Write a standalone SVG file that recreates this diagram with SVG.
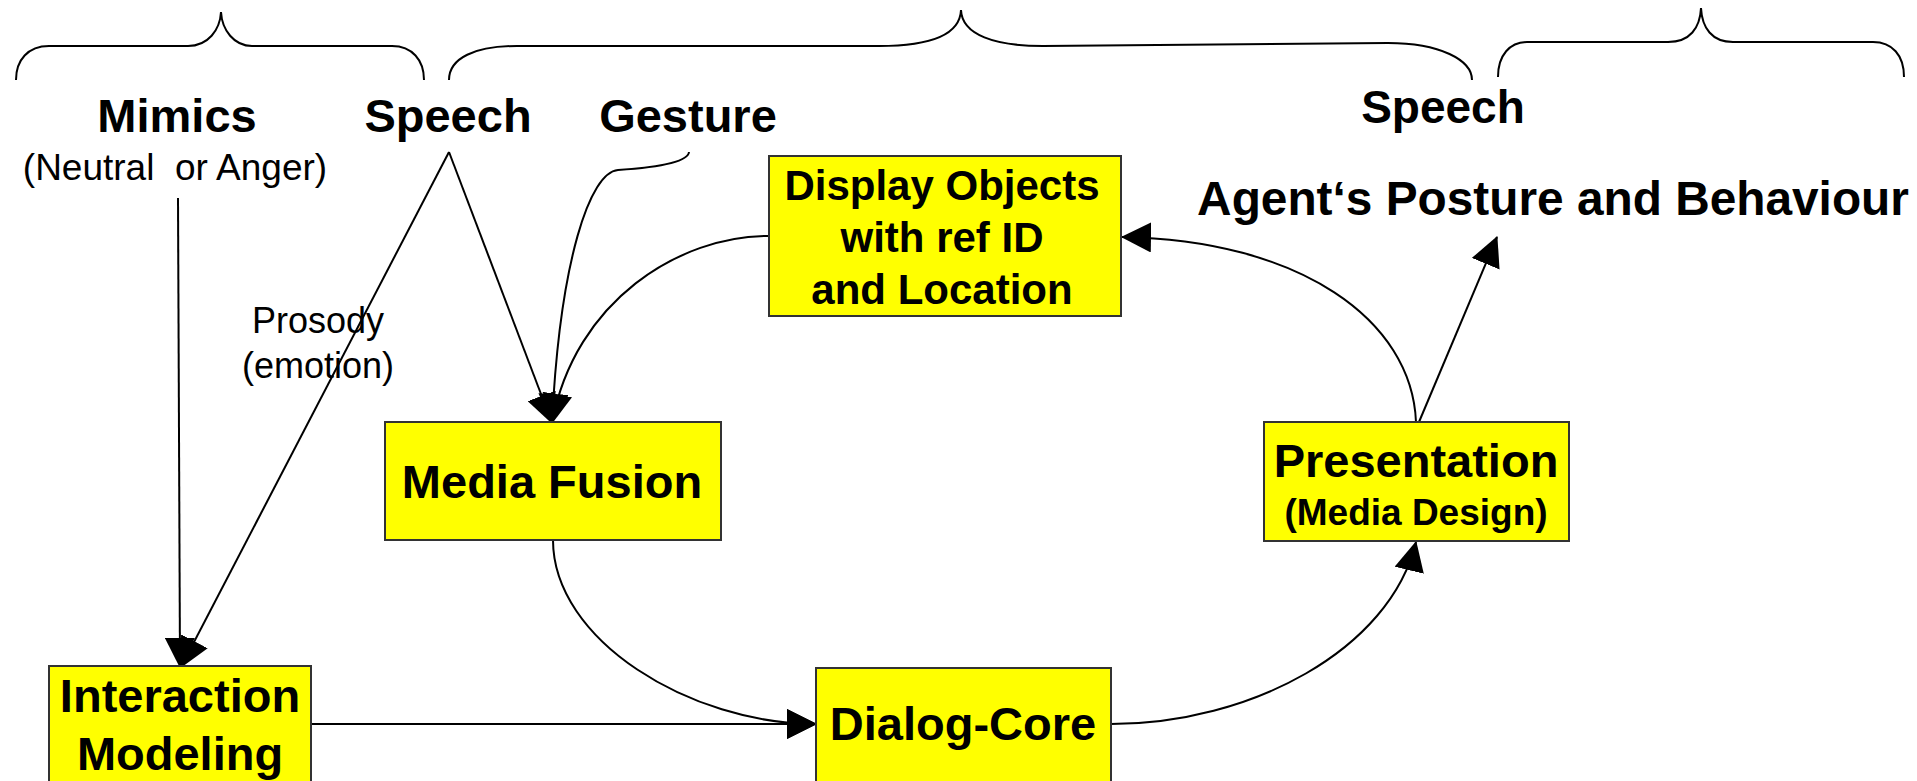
<svg xmlns="http://www.w3.org/2000/svg" width="1917" height="781" viewBox="0 0 1917 781">
  <style>
    .box { fill: #ffff00; stroke: #333333; stroke-width: 2; }
    .t { font-family: "Liberation Sans", Arial, sans-serif; fill: #000000; text-anchor: middle; }
    .b { font-weight: bold; }
    .line { fill: none; stroke: #000000; stroke-width: 2; }
    .brace { fill: none; stroke: #000000; stroke-width: 2; }
  </style>
  <defs>
    <marker id="arrow" markerUnits="userSpaceOnUse" markerWidth="30" markerHeight="30" refX="29" refY="15" orient="auto">
      <path d="M0,0 L30,15 L0,30 z" fill="#000000"/>
    </marker>
  </defs>

  <rect width="1917" height="781" fill="#ffffff"/>

  <!-- brackets grouping the modalities -->
  <g id="braces">
    <path class="brace" d="M16,80 C16,60 28,46 49,46 L188,46 C208,46 220,30 221,12 C222,30 234,46 252,46 L392,46 C412,46 424,60 424,80"/>
    <path class="brace" d="M449,80 C449,58 475,46 517,46 L879,46 C930,46 960,35 961,10 C962,35 995,46 1043,46 L1388,43 C1440,43 1472,60 1472,80"/>
    <path class="brace" d="M1498,77 C1498,55 1510,42 1527,42 L1668,42 C1690,42 1700,28 1701,8 C1702,28 1712,42 1733,42 L1873,42 C1892,42 1904,55 1904,77"/>
  </g>

  <!-- input / output labels -->
  <g id="mimics">
    <text class="t b" x="177" y="132" font-size="47">Mimics</text>
    <text class="t" x="175" y="180" font-size="37" xml:space="preserve">(Neutral  or Anger)</text>
  </g>
  <g id="speech-in">
    <text class="t b" x="448" y="132" font-size="47">Speech</text>
  </g>
  <g id="gesture">
    <text class="t b" x="688" y="132" font-size="47">Gesture</text>
  </g>
  <g id="speech-out">
    <text class="t b" x="1443" y="123" font-size="46">Speech</text>
  </g>
  <g id="agent">
    <text class="t b" x="1553" y="215" font-size="47.8">Agent‘s Posture and Behaviour</text>
  </g>
  <g id="prosody">
    <text class="t" x="318" y="333" font-size="36">Prosody</text>
    <text class="t" x="318" y="378" font-size="36">(emotion)</text>
  </g>

  <!-- connectors -->
  <g id="connectors">
    <path class="line" d="M178,198 L180,667" marker-end="url(#arrow)"/>
    <path class="line" d="M449,152 L181,667" marker-end="url(#arrow)"/>
    <path class="line" d="M449,152 L552,423" marker-end="url(#arrow)"/>
    <path class="line" d="M689,152 C688,163 650,168 618,170 C590,172 560,260 552,423" marker-end="url(#arrow)"/>
    <path class="line" d="M768,236 C680,236 575,300 552,423" marker-end="url(#arrow)"/>
    <path class="line" d="M311,724 L816,724" marker-end="url(#arrow)"/>
    <path class="line" d="M553,540 C553,640 690,724 816,724" marker-end="url(#arrow)"/>
    <path class="line" d="M1111,724 C1250,724 1390,650 1416,542" marker-end="url(#arrow)"/>
    <path class="line" d="M1416,422 C1412,320 1300,240 1122,237" marker-end="url(#arrow)"/>
    <path class="line" d="M1419,422 L1497,237" marker-end="url(#arrow)"/>
  </g>

  <!-- processing modules -->
  <g id="display-objects">
    <rect class="box" x="769" y="156" width="352" height="160"/>
    <text class="t b" x="942" y="200" font-size="42">Display Objects</text>
    <text class="t b" x="942" y="252" font-size="42">with ref ID</text>
    <text class="t b" x="942" y="304" font-size="42">and Location</text>
  </g>
  <g id="media-fusion">
    <rect class="box" x="385" y="422" width="336" height="118"/>
    <text class="t b" x="552" y="498" font-size="47">Media Fusion</text>
  </g>
  <g id="presentation">
    <rect class="box" x="1264" y="422" width="305" height="119"/>
    <text class="t b" x="1416" y="477" font-size="47">Presentation</text>
    <text class="t b" x="1416" y="525" font-size="37">(Media Design)</text>
  </g>
  <g id="interaction-modeling">
    <rect class="box" x="49" y="666" width="262" height="130"/>
    <text class="t b" x="180" y="712" font-size="47">Interaction</text>
    <text class="t b" x="180" y="770" font-size="47">Modeling</text>
  </g>
  <g id="dialog-core">
    <rect class="box" x="816" y="668" width="295" height="130"/>
    <text class="t b" x="963" y="740" font-size="47">Dialog-Core</text>
  </g>
</svg>
